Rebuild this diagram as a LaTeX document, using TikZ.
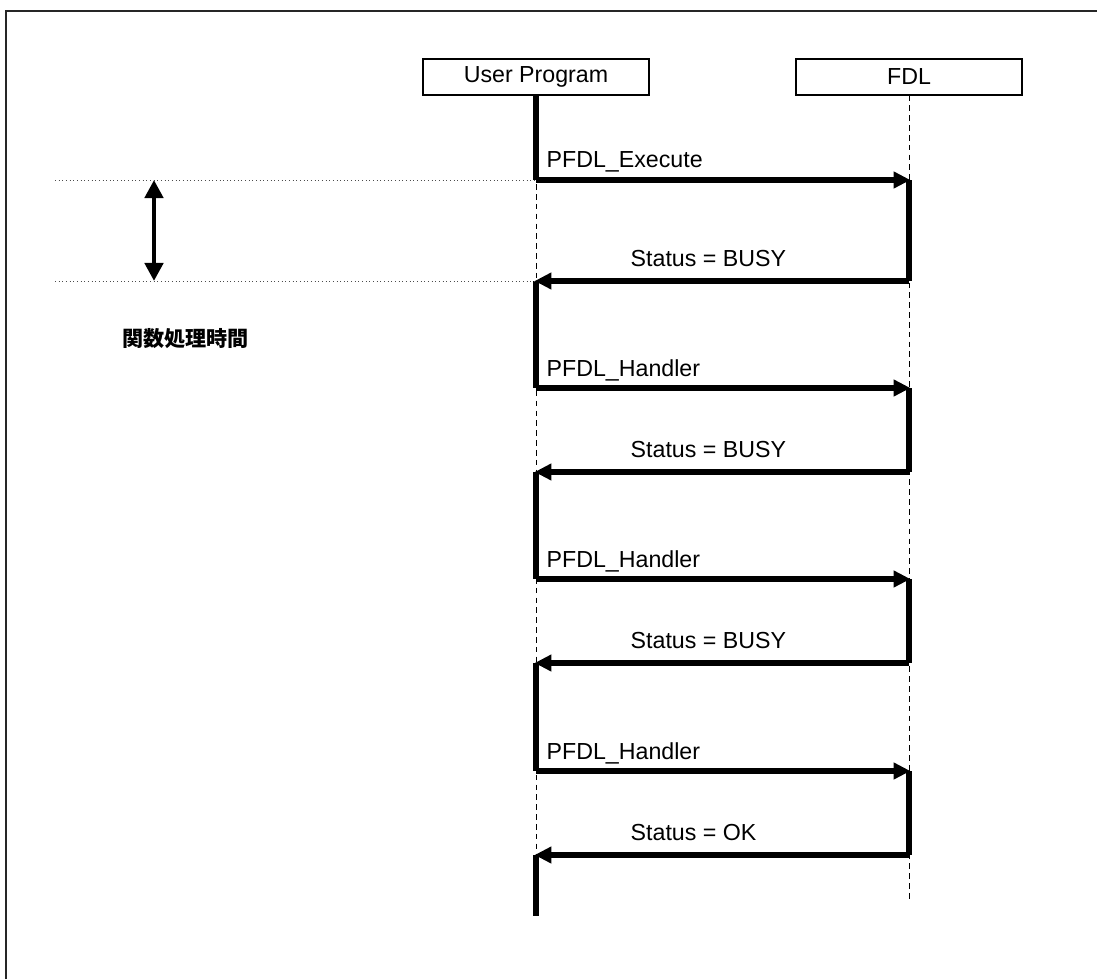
\documentclass[tikz,border=0pt]{standalone}
\usepackage{fontspec}
\setmainfont{Liberation Sans}
\newfontfamily\cjk{Noto Sans CJK JP}
\usetikzlibrary{positioning, arrows.meta}

\begin{document}
\begin{tikzpicture}[x=0.025cm, y=-0.025cm,
  head/.style={rectangle, draw, thick, minimum width=5.65cm, minimum height=0.9cm,
    inner sep=0pt, font=\fontsize{16.5}{19}\selectfont},
  life/.style={draw, line width=0.7pt, dash pattern=on 4pt off 3pt},
  bar/.style={draw, line width=3.8pt},
  msg/.style={-{Triangle[length=0.42cm, width=0.4cm]}, line width=3.8pt, shorten >=-1pt},
  calllbl/.style={anchor=base west, inner sep=0pt, xshift=0.2cm, yshift=0.3cm,
    font=\fontsize{16.5}{19}\selectfont},
  retlbl/.style={anchor=base west, inner sep=0pt, xshift=2.3cm, yshift=0.37cm,
    font=\fontsize{16.5}{19}\selectfont},
  guide/.style={draw=black!70, line width=0.6pt, dotted},
  span/.style={{Triangle[length=0.45cm, width=0.45cm]}-{Triangle[length=0.45cm, width=0.45cm]},
    line width=3.2pt}
]
  \useasboundingbox (0,0) rectangle (1097,979);
  \draw[line width=1.2pt, black!85] (6,979) -- (6,11) -- (1097,11);

  \node[head] (user) at (536,77) {User Program};
  \node[head] (fdl) at (909,77) {FDL};

  \coordinate (c1u) at (536,180);  \coordinate (c1f) at (909,180);
  \coordinate (r1f) at (909,281);  \coordinate (r1u) at (536,281);
  \coordinate (c2u) at (536,388);  \coordinate (c2f) at (909,388);
  \coordinate (r2f) at (909,472);  \coordinate (r2u) at (536,472);
  \coordinate (c3u) at (536,579);  \coordinate (c3f) at (909,579);
  \coordinate (r3f) at (909,663);  \coordinate (r3u) at (536,663);
  \coordinate (c4u) at (536,771);  \coordinate (c4f) at (909,771);
  \coordinate (r4f) at (909,855);  \coordinate (r4u) at (536,855);
  \coordinate (uEnd) at (536,916);
  \coordinate (fEnd) at (909,899);

  \draw[life] (user.south) -- (r4u);
  \draw[life] (fdl.south) -- (fEnd);

  \draw[bar] (user.south) -- (c1u);
  \draw[msg] (c1u) -- node[calllbl, at start] {PFDL\_Execute} (c1f);
  \draw[bar] (c1f) -- (r1f);
  \draw[msg] (r1f) -- node[retlbl, at end] {Status = BUSY} (r1u);
  \draw[bar] (r1u) -- (c2u);
  \draw[msg] (c2u) -- node[calllbl, at start] {PFDL\_Handler} (c2f);
  \draw[bar] (c2f) -- (r2f);
  \draw[msg] (r2f) -- node[retlbl, at end] {Status = BUSY} (r2u);
  \draw[bar] (r2u) -- (c3u);
  \draw[msg] (c3u) -- node[calllbl, at start] {PFDL\_Handler} (c3f);
  \draw[bar] (c3f) -- (r3f);
  \draw[msg] (r3f) -- node[retlbl, at end] {Status = BUSY} (r3u);
  \draw[bar] (r3u) -- (c4u);
  \draw[msg] (c4u) -- node[calllbl, at start] {PFDL\_Handler} (c4f);
  \draw[bar] (c4f) -- (r4f);
  \draw[msg] (r4f) -- node[retlbl, at end] {Status = OK} (r4u);
  \draw[bar] (r4u) -- (uEnd);

  \coordinate (gTop) at (55,180);
  \coordinate (gBot) at (55,281);
  \draw[guide] (gTop) -- (c1u);
  \draw[guide] (gBot) -- (r1u);
  \coordinate (sTop) at (154,180);
  \coordinate (sBot) at (154,281);
  \draw[span] (sTop) -- (sBot);

  \node[anchor=west, inner sep=0pt, font=\cjk\bfseries\fontsize{15}{18}\selectfont]
    (time) at (122,339) {関数処理時間};
\end{tikzpicture}
\end{document}
